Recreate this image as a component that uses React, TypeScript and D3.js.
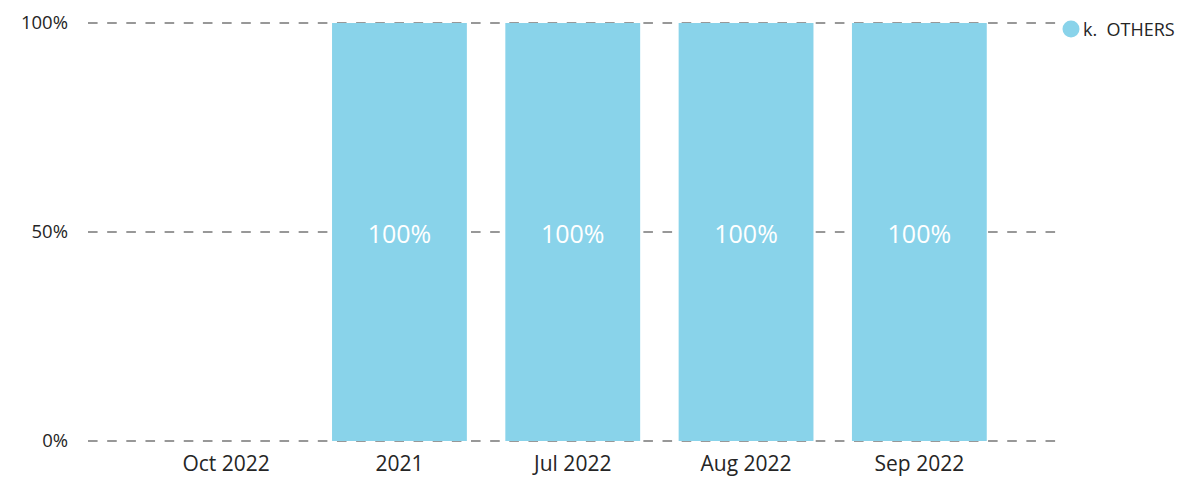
import React from "react";
import * as d3 from "d3";

const categories = ["Oct 2022", "2021", "Jul 2022", "Aug 2022", "Sep 2022"];
const othersValues: (number | null)[] = [null, 1, 1, 1, 1];
const yTicks = [0, 0.5, 1];
const seriesName = "k.  OTHERS";
const barColor = "#89D3EA";

export default function App() {
  const W = 1183;
  const H = 478;
  const x = d3.scaleBand<string>().domain(categories).range([139.5, 1006]).paddingInner(0.222).paddingOuter(0.111);
  const y = d3.scaleLinear().domain([0, 1]).range([441, 23]);
  const fmt = d3.format(".0%");
  const font = "'Segoe UI', 'Open Sans', sans-serif";
  return (
    <svg width={W} height={H} style={{ position: "absolute", left: 0, top: 0 }} fontFamily={font}>
      {yTicks.map((t) => (
        <g key={t}>
          <line x1={88} x2={1056} y1={y(t)} y2={y(t)} stroke="#777" strokeWidth={1.5} strokeDasharray="9.6,9.55" />
          <text x={68} y={y(t)} dy="0.35em" textAnchor="end" fontSize={18.5} fill="#252525">
            {fmt(t)}
          </text>
        </g>
      ))}
      {categories.map((c, i) => {
        const v = othersValues[i];
        const cx = (x(c) as number) + x.bandwidth() / 2;
        return (
          <g key={c}>
            {v != null && (
              <>
                <rect x={x(c)} y={y(v)} width={x.bandwidth()} height={y(0) - y(v)} fill={barColor} />
                <text x={cx} y={(y(v) + y(0)) / 2 + 2} dy="0.35em" textAnchor="middle" fontSize={25} fontWeight={400} fill="#fff" fontFamily="'Open Sans', sans-serif">
                  {fmt(v)}
                </text>
              </>
            )}
            <text x={cx} y={464} dy="0.35em" textAnchor="middle" fontSize={21} fill="#252525">
              {c}
            </text>
          </g>
        );
      })}
      <circle cx={1071} cy={29} r={8.5} fill={barColor} />
      <text x={1083} y={30} dy="0.35em" fontSize={18} fill="#252525" style={{ whiteSpace: "pre" }}>
        {seriesName}
      </text>
    </svg>
  );
}
